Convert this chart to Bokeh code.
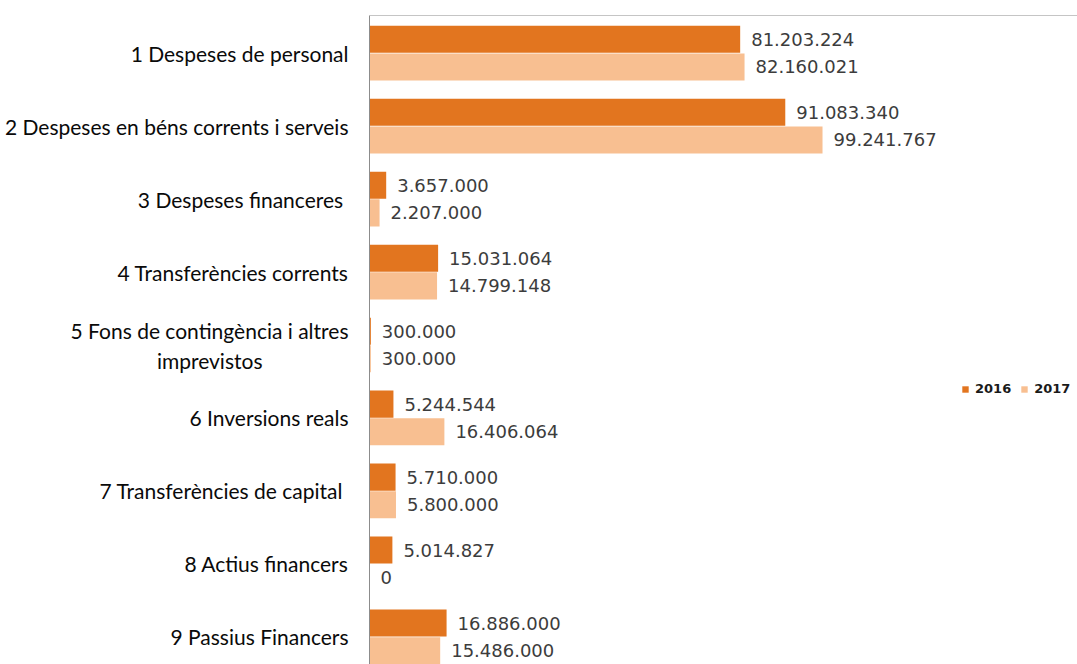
from bokeh.plotting import figure
from bokeh.models import (ColumnDataSource, Range1d, FixedTicker, Legend, LegendItem, Span)
from bokeh.core.properties import value
from bokeh.embed import file_html
from bokeh.resources import INLINE

NB = "\u00a0"
categories = [
    "1 Despeses de personal",
    "2 Despeses en béns corrents i serveis",
    "3 Despeses financeres" + NB,
    "4 Transferències corrents",
    "5 Fons de contingència i altres\nimprevistos" + NB * 16,
    "6 Inversions reals",
    "7 Transferències de capital" + NB,
    "8 Actius financers",
    "9 Passius Financers",
]
v2016 = [81203224, 91083340, 3657000, 15031064, 300000, 5244544, 5710000, 5014827, 16886000]
v2017 = [82160021, 99241767, 2207000, 14799148, 300000, 16406064, 5800000, 0, 15486000]

C2016 = "#E2751F"
C2017 = "#F8BF91"

pos = list(range(1, len(categories) + 1))
off = 0.19
fmt = lambda v: "{:,}".format(v).replace(",", ".")

src16 = ColumnDataSource(dict(y=[p_ - off for p_ in pos], v=v2016, t=[fmt(v) for v in v2016]))
src17 = ColumnDataSource(dict(y=[p_ + off for p_ in pos], v=v2017, t=[fmt(v) for v in v2017]))

p = figure(width=1077, height=664, output_backend="svg", toolbar_location=None,
           x_range=Range1d(0, 155.1e6), y_range=Range1d(9.377, 0.486),
           min_border_left=369, min_border_right=0, min_border_top=15, min_border_bottom=0)
p.outline_line_color = None
p.xgrid.visible = False
p.ygrid.visible = False
p.xaxis.visible = False

r16 = p.hbar(y="y", left=0, right="v", height=0.37, source=src16, color=C2016, line_color=None)
r17 = p.hbar(y="y", left=0, right="v", height=0.37, source=src17, color=C2017, line_color=None)

for s in (src16, src17):
    p.text(x="v", y="y", text="t", source=s, x_offset=11, text_baseline="middle",
           text_align="left", text_font=value("DejaVu Sans"), text_font_size="18px",
           text_color="#3c3c3c")

p.add_layout(Span(location=0.486, dimension="width", line_color="#8c8c8c", line_width=1))

ax = p.yaxis[0]
ax.ticker = FixedTicker(ticks=pos)
ax.major_label_overrides = {i: c for i, c in zip(pos, categories)}
ax.major_tick_line_color = None
ax.minor_tick_line_color = None
ax.axis_line_color = "#8c8c8c"
ax.major_label_standoff = 15
ax.major_label_text_font = "Lato"
ax.major_label_text_font_size = "21px"
ax.major_label_text_color = "#0a0a0a"

legend = Legend(items=[LegendItem(label="2016", renderers=[r16]),
                       LegendItem(label="2017", renderers=[r17])],
                orientation="horizontal", location=(592, 268),
                glyph_width=8, glyph_height=8, label_standoff=6, spacing=9,
                padding=0, margin=0, border_line_color=None, background_fill_alpha=0,
                label_text_font="DejaVu Sans", label_text_font_size="13px",
                label_text_font_style="bold", label_text_color="#1a1a1a")
p.add_layout(legend, "center")

open("out.html", "w").write(file_html(p, INLINE))
